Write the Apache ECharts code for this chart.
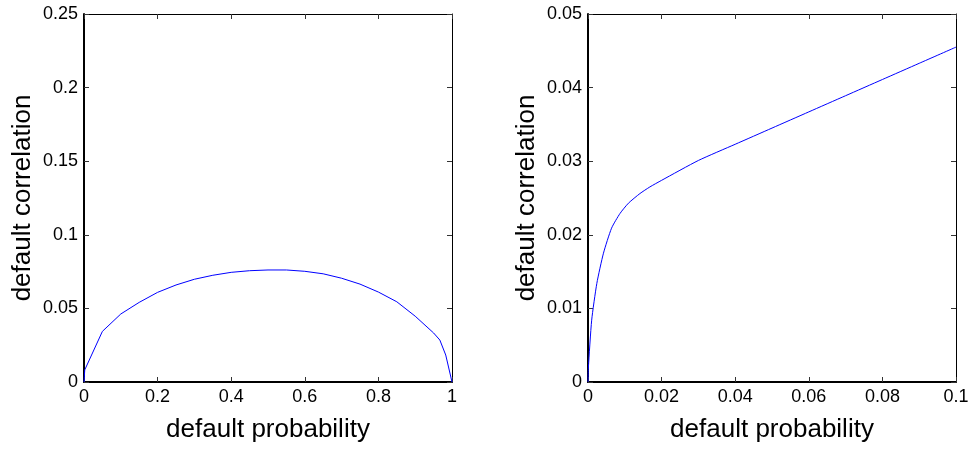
<!DOCTYPE html>
<html>
<head>
<meta charset="utf-8">
<script src="https://cdn.jsdelivr.net/npm/echarts@6/dist/echarts.min.js"></script>
<style>
html,body{margin:0;padding:0;background:#fff;}
#c{width:972px;height:449px;}
</style>
</head>
<body>
<div id="c"></div>
<script>
// Left panel: default probability vs default correlation
const leftX = [0, 0.002, 0.05, 0.1, 0.15, 0.2, 0.25, 0.3, 0.35, 0.4, 0.45, 0.5, 0.55, 0.6, 0.65, 0.7, 0.75, 0.8, 0.85, 0.9, 0.95, 0.967, 0.983, 1];
const leftY = [0, 0.0082, 0.0344, 0.0462, 0.0541, 0.0609, 0.0659, 0.0698, 0.0725, 0.0745, 0.0756, 0.0761, 0.0761, 0.0752, 0.0735, 0.0705, 0.0665, 0.0611, 0.0545, 0.0447, 0.0333, 0.0285, 0.0183, 0];
// Right panel: zoom on small default probabilities
const rightX = [0, 0.0001, 0.001, 0.0024, 0.0042, 0.0064, 0.0087, 0.011, 0.0141, 0.0168, 0.02, 0.03, 0.04, 0.05, 0.06, 0.07, 0.08, 0.09, 0.1];
const rightY = [0, 0.0019, 0.0084, 0.0134, 0.0175, 0.0209, 0.0229, 0.0243, 0.0256, 0.0265, 0.0274, 0.0301, 0.0323, 0.0345, 0.0367, 0.0389, 0.0411, 0.0433, 0.0455];

const xName = 'default probability';
const yName = 'default correlation';
const leftXTicks = {min: 0, max: 1, interval: 0.2};
const leftYTicks = {min: 0, max: 0.25, interval: 0.05};
const rightXTicks = {min: 0, max: 0.1, interval: 0.02};
const rightYTicks = {min: 0, max: 0.05, interval: 0.01};

const FONT = '"Liberation Sans", Arial, sans-serif';
const zip = (xs, ys) => xs.map((x, i) => [x, ys[i]]);

function mainX(grid, t) {
  return {
    type: 'value', gridIndex: grid, min: t.min, max: t.max, interval: t.interval,
    position: 'bottom',
    name: xName, nameLocation: 'middle', nameGap: 35,
    nameTextStyle: {fontFamily: FONT, fontSize: 26, color: '#000'},
    axisLine: {show: true, onZero: false, lineStyle: {color: '#000', width: 2}},
    axisTick: {show: true, inside: true, length: 5, lineStyle: {color: '#333'}},
    axisLabel: {fontFamily: FONT, fontSize: 18, color: '#000', margin: 6},
    splitLine: {show: false}
  };
}
function topX(grid, t) {
  return {
    type: 'value', gridIndex: grid, min: t.min, max: t.max, interval: t.interval,
    position: 'top',
    axisLine: {show: true, onZero: false, lineStyle: {color: '#000', width: 1}},
    axisTick: {show: true, inside: true, length: 5, lineStyle: {color: '#333'}},
    axisLabel: {show: false}, splitLine: {show: false}
  };
}
function mainY(grid, t) {
  return {
    type: 'value', gridIndex: grid, min: t.min, max: t.max, interval: t.interval,
    position: 'left',
    name: yName, nameLocation: 'middle', nameGap: 48,
    nameTextStyle: {fontFamily: FONT, fontSize: 26, color: '#000'},
    axisLine: {show: true, onZero: false, lineStyle: {color: '#000', width: 2}},
    axisTick: {show: true, inside: true, length: 5, lineStyle: {color: '#333'}},
    axisLabel: {fontFamily: FONT, fontSize: 18, color: '#000', margin: 6},
    splitLine: {show: false}
  };
}
function rightYAx(grid, t) {
  return {
    type: 'value', gridIndex: grid, min: t.min, max: t.max, interval: t.interval,
    position: 'right',
    axisLine: {show: true, onZero: false, lineStyle: {color: '#000', width: 1}},
    axisTick: {show: true, inside: true, length: 5, lineStyle: {color: '#333'}},
    axisLabel: {show: false}, splitLine: {show: false}
  };
}

const chart = echarts.init(document.getElementById('c'), null, {renderer: 'canvas'});
chart.setOption({
  animation: false,
  backgroundColor: '#fff',
  grid: [
    {left: 84, top: 14, width: 368, height: 368},
    {left: 588, top: 14, width: 368, height: 368}
  ],
  xAxis: [mainX(0, leftXTicks), topX(0, leftXTicks), mainX(1, rightXTicks), topX(1, rightXTicks)],
  yAxis: [mainY(0, leftYTicks), rightYAx(0, leftYTicks), mainY(1, rightYTicks), rightYAx(1, rightYTicks)],
  series: [
    {type: 'line', xAxisIndex: 0, yAxisIndex: 0, data: zip(leftX, leftY), showSymbol: false,
     lineStyle: {color: '#0000ff', width: 1}, clip: false},
    {type: 'line', xAxisIndex: 2, yAxisIndex: 2, data: zip(rightX, rightY), showSymbol: false,
     smooth: 0.2, lineStyle: {color: '#0000ff', width: 1}, clip: false}
  ]
});
</script>
</body>
</html>
